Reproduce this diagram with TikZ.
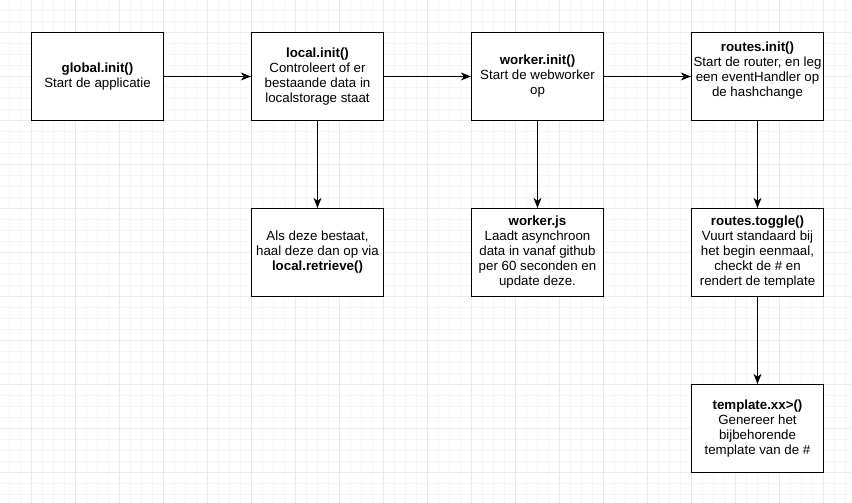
\documentclass[tikz,border=0pt]{standalone}
\usepackage{fontspec}
\setmainfont{Liberation Sans}
\usetikzlibrary{arrows.meta}
\definecolor{gridminor}{HTML}{F6F6F6}
\definecolor{gridmajor}{HTML}{EAEAEA}
\begin{document}
\begin{tikzpicture}[x=1pt,y=-1pt,
  box/.style={draw=black, line width=1.2pt, fill=white, minimum width=132pt, minimum height=88pt,
    inner sep=0pt, align=center, font=\fontsize{13.3}{15}\selectfont, text=black},
  conn/.style={draw=black, line width=1.1pt, -{Stealth[length=10pt,width=8pt,inset=3pt]}}]
\fill[white] (0,0) rectangle (852,503);
\useasboundingbox (0,0) rectangle (852,503);
% grid
\foreach \x in {9.5,20.5,...,852} \draw[gridminor, line width=0.9pt] (\x,0) -- (\x,503);
\foreach \y in {10.5,21.5,...,503} \draw[gridminor, line width=0.9pt] (0,\y) -- (852,\y);
\foreach \x in {31.5,75.5,...,852} \draw[gridmajor, line width=0.9pt] (\x,0) -- (\x,503);
\foreach \y in {32.5,76.5,...,503} \draw[gridmajor, line width=0.9pt] (0,\y) -- (852,\y);
% boxes
\node[box] (global) at (97.5,76.5) {\textbf{global.init()}\\Start de applicatie};
\node[box] (local) at (317.5,76.5) {\textbf{local.init()}\\Controleert of er\\bestaande data in\\localstorage staat};
\node[box] (worker) at (537.5,76.5) {\textbf{worker.init()}\\Start de webworker\\op};
\node[box] (routes) at (757.5,76.5) {\textbf{routes.init()}\\Start de router, en leg\\een eventHandler op\\de hashchange\\\mbox{}};
\node[box] (retrieve) at (317.5,252.5) {Als deze bestaat,\\haal deze dan op via\\\textbf{local.retrieve()}};
\node[box] (workerjs) at (537.5,252.5) {\textbf{worker.js}\\Laadt asynchroon\\data in vanaf github\\per 60 seconden en\\update deze.};
\node[box] (toggle) at (757.5,252.5) {\textbf{routes.toggle()}\\Vuurt standaard bij\\het begin eenmaal,\\checkt de \# en\\rendert de template};
\node[box] (template) at (757.5,428.5) {\textbf{template.xx>()}\\Genereer het\\bijbehorende\\template van de \#};
% connectors
\draw[conn] (global) -- (local);
\draw[conn] (local) -- (worker);
\draw[conn] (worker) -- (routes);
\draw[conn] (local) -- (retrieve);
\draw[conn] (worker) -- (workerjs);
\draw[conn] (routes) -- (toggle);
\draw[conn] (toggle) -- (template);
\end{tikzpicture}
\end{document}
